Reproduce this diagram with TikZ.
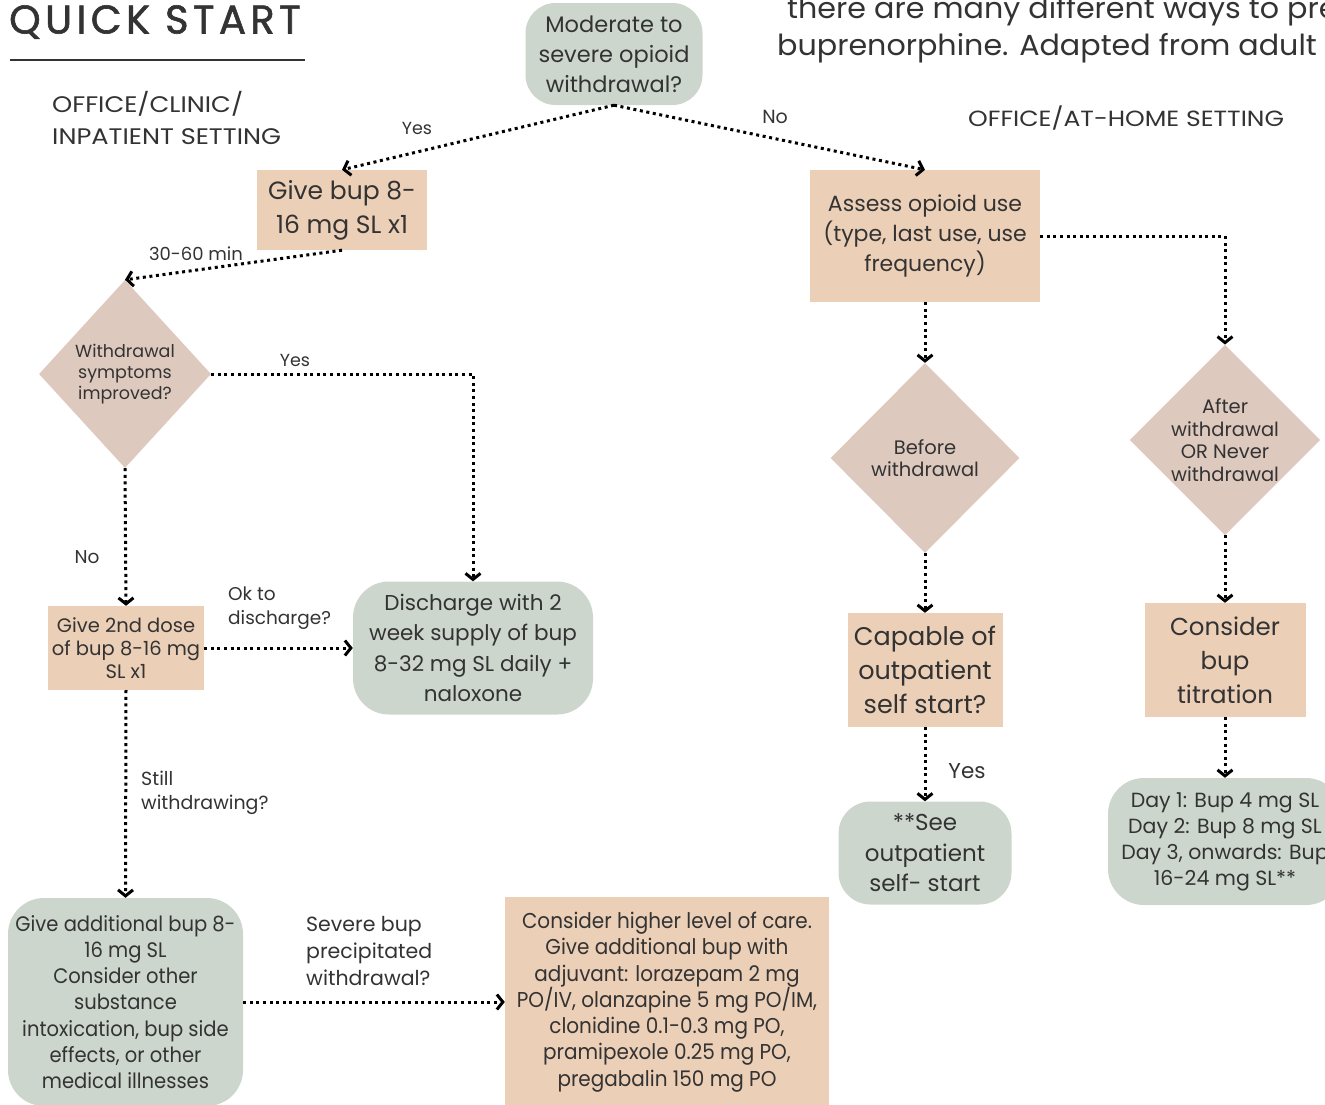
\documentclass[tikz,border=0pt]{standalone}
\usepackage{fontspec}
\setmainfont{Poppins}
\newfontfamily\titlefont{Poppins}[FakeBold=1.5, LetterSpace=11]
\newfontfamily\widefont{Poppins}[FakeStretch=1.14]
\newfontfamily\notefont{Poppins}[FakeStretch=1.04]
\newfontfamily\condfont{Poppins}[FakeStretch=0.93]
\usetikzlibrary{arrows.meta,shapes.geometric}

\definecolor{ink}{HTML}{333333}
\definecolor{sage}{HTML}{CDD6CC}
\definecolor{peach}{HTML}{ECCFB7}
\definecolor{rosy}{HTML}{DEC9BF}

\tikzset{
  box/.style={align=center, text=ink, inner sep=0pt},
  action/.style={box, fill=peach},
  result/.style={box, fill=sage, rounded corners=36pt},
  choice/.style={box, fill=rosy, shape=diamond, aspect=1},
  tag/.style={text=ink, inner sep=0pt, align=left},
  flow/.style={line width=3pt, dash pattern=on 3pt off 3.6pt,
    -{Straight Barb[length=6pt,width=15pt,line width=3pt]}}
}

\begin{document}
\begin{tikzpicture}[x=1pt,y=-1pt]
  \useasboundingbox (0,0) rectangle (1325,1104);
  % headings
  \node[tag, anchor=west, font=\titlefont\fontsize{40}{44}\selectfont] (title) at (9,22) {QUICK START};
  \draw[ink, line width=2pt] (10,60) -- (305,60);
  \node[tag, anchor=north west, font=\widefont\fontsize{22.5}{32}\selectfont] (leftset) at (52,91) {OFFICE/CLINIC/\\INPATIENT SETTING};
  \node[tag, anchor=west, font=\widefont\fontsize{22}{24}\selectfont] (rightset) at (968,118) {OFFICE/AT-HOME SETTING};
  \node[tag, anchor=west, font=\notefont\fontsize{29}{30}\selectfont] (note1) at (787,11) {there are many different ways to pre};
  \node[tag, anchor=west, font=\notefont\fontsize{29}{30}\selectfont] (note2) at (777,48) {buprenorphine. Adapted from adult};

  % left branch
  \node[result, rounded corners=30pt, minimum width=177pt, minimum height=102pt, font=\fontsize{22.5}{30}\selectfont] (q) at (614,54) {Moderate to\\severe opioid\\withdrawal?};
  \node[action, minimum width=170pt, minimum height=80pt, font=\fontsize{25}{34}\selectfont] (give1) at (342,210) {Give bup 8-\\16 mg SL x1};
  \node[choice, minimum width=172pt, minimum height=188pt, font=\fontsize{17.5}{21}\selectfont] (imp) at (125,374) {Withdrawal\\symptoms\\improved?};
  \node[action, minimum width=156pt, minimum height=84pt, font=\fontsize{19.5}{23}\selectfont] (give2) at (126,648) {Give 2nd dose\\of bup 8-16 mg\\SL x1};
  \node[result, minimum width=240pt, minimum height=133pt, font=\fontsize{21.5}{30.5}\selectfont] (dis) at (473,648) {Discharge with 2\\week supply of bup\\8-32 mg SL daily +\\naloxone};
  \node[result, minimum width=235pt, minimum height=208pt, font=\condfont\fontsize{21}{26.3}\selectfont] (addl) at (125.5,1002) {Give additional bup 8-\\16 mg SL\\Consider other\\substance\\intoxication, bup side\\effects, or other\\medical illnesses};
  \node[action, minimum width=324pt, minimum height=210pt, font=\condfont\fontsize{21.5}{26.3}\selectfont] (higher) at (667,1002) {Consider higher level of care.\\Give additional bup with\\adjuvant: lorazepam 2 mg\\PO/IV, olanzapine 5 mg PO/IM,\\clonidine 0.1-0.3 mg PO,\\pramipexole 0.25 mg PO,\\pregabalin 150 mg PO};

  % right branch
  \node[action, minimum width=230pt, minimum height=132pt, font=\fontsize{22}{30}\selectfont] (assess) at (925,236) {Assess opioid use\\(type, last use, use\\frequency)};
  \node[choice, minimum width=189pt, minimum height=190pt, font=\fontsize{19.5}{22}\selectfont] (before) at (925,458) {Before\\withdrawal};
  \node[choice, minimum width=188pt, minimum height=190pt, font=\fontsize{19.5}{22.5}\selectfont] (after) at (1225,440) {After\\withdrawal\\OR Never\\withdrawal};
  \node[action, minimum width=155pt, minimum height=114pt, font=\fontsize{25.5}{34}\selectfont] (capable) at (925,670) {Capable of\\outpatient\\self start?};
  \node[result, rounded corners=32pt, minimum width=173pt, minimum height=103pt, font=\fontsize{23}{30.5}\selectfont] (see) at (925,853) {**See\\outpatient\\self- start};
  \node[action, minimum width=161pt, minimum height=114pt, font=\fontsize{24.5}{34}\selectfont] (titr) at (1225,660) {Consider\\bup\\titration};
  \node[result, minimum width=234pt, minimum height=127pt, font=\fontsize{20.5}{26}\selectfont] (days) at (1225,841.5) {Day 1: Bup 4 mg SL\\Day 2: Bup 8 mg SL\\Day 3, onwards: Bup\\16-24 mg SL**};

  % connector labels
  \node[tag, font=\fontsize{17.5}{20}\selectfont] (yes1) at (417,128) {Yes};
  \node[tag, font=\fontsize{19}{20}\selectfont] (no1) at (775,117) {No};
  \node[tag, font=\fontsize{18}{20}\selectfont] (wait) at (196,254) {30-60 min};
  \node[tag, font=\fontsize{17.5}{20}\selectfont] (yes2) at (295,360) {Yes};
  \node[tag, font=\fontsize{18.5}{20}\selectfont] (no2) at (87,557) {No};
  \node[tag, anchor=north west, font=\fontsize{18.5}{24}\selectfont] (okdis) at (228,587) {Ok to\\discharge?};
  \node[tag, anchor=north west, font=\fontsize{19}{24}\selectfont] (still) at (141,771) {Still\\withdrawing?};
  \node[tag, anchor=north west, font=\fontsize{20.5}{27}\selectfont] (severe) at (306,916) {Severe bup\\precipitated\\withdrawal?};
  \node[tag, font=\fontsize{21.5}{20}\selectfont] (yes3) at (967,771) {Yes};

  % connectors
  \draw[flow] (q.south) -- (give1.north);
  \draw[flow] (q.south) -- (assess.north);
  \draw[flow] (give1.south) -- (imp.north);
  \draw[flow] (imp.east) -| (dis.north);
  \draw[flow] (imp.south) -- (give2.north);
  \draw[flow] (give2.east) -- (dis.west);
  \draw[flow] (give2.south) -- (addl.north);
  \draw[flow] (addl.east) -- (higher.west);
  \draw[flow] (assess.south) -- (before.north);
  \draw[flow] (assess.east) -| (after.north);
  \draw[flow] (before.south) -- (capable.north);
  \draw[flow] (capable.south) -- (see.north);
  \draw[flow] (after.south) -- (titr.north);
  \draw[flow] (titr.south) -- (days.north);
\end{tikzpicture}
\end{document}
